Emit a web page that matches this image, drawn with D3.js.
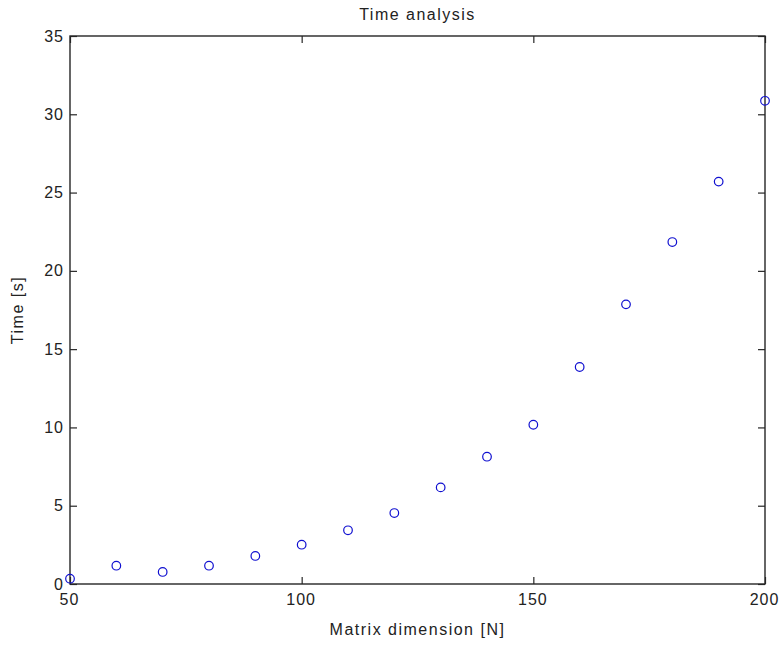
<!DOCTYPE html>
<html>
<head>
<meta charset="utf-8">
<script src="https://cdn.jsdelivr.net/npm/d3@7"></script>
<style>
  body { margin: 0; background: #fff; }
  text { font-family: "Liberation Sans", Arial, sans-serif; fill: #222; }
</style>
</head>
<body>
<script>
// data
var dims  = [50, 60, 70, 80, 90, 100, 110, 120, 130, 140, 150, 160, 170, 180, 190, 200];
var times = [0.34, 1.17, 0.77, 1.17, 1.79, 2.51, 3.43, 4.53, 6.17, 8.13, 10.17, 13.86, 17.86, 21.84, 25.7, 30.86];
var xTicks = [50, 100, 150, 200];
var yTicks = [0, 5, 10, 15, 20, 25, 30, 35];

var W = 779, H = 646;
var m = {left: 70, right: 14, top: 36, bottom: 62};
var pw = W - m.left - m.right, ph = H - m.top - m.bottom;

var svg = d3.select("body").append("svg").attr("width", W).attr("height", H);
var g = svg.append("g").attr("transform", "translate(" + m.left + "," + m.top + ")");

var x = d3.scaleLinear().domain([50, 200]).range([0, pw]);
var y = d3.scaleLinear().domain([0, 35]).range([ph, 0]);

var tk = 7;
// inward ticks on all four sides
function styleAxis(sel) {
  sel.select(".domain").remove();
  sel.selectAll(".tick line").attr("stroke", "#262626").attr("stroke-width", 1.2);
  sel.selectAll(".tick text").attr("fill", "#222")
    .style("font-size", "16px").style("letter-spacing", "1px")
    .style("font-family", "Liberation Sans, Arial, sans-serif");
}
g.append("g").attr("transform", "translate(0," + ph + ")")
  .call(d3.axisBottom(x).tickValues(xTicks).tickSize(-tk).tickPadding(10).tickFormat(d3.format("d")))
  .call(styleAxis)
  .selectAll(".tick text").attr("dx", "-1px");
g.append("g")
  .call(d3.axisTop(x).tickValues(xTicks).tickSize(-tk).tickFormat(""))
  .call(styleAxis);
g.append("g")
  .call(d3.axisLeft(y).tickValues(yTicks).tickSize(-tk).tickPadding(7).tickFormat(d3.format("d")))
  .call(styleAxis)
  .selectAll(".tick text").attr("dx", "1px");
g.append("g").attr("transform", "translate(" + pw + ",0)")
  .call(d3.axisRight(y).tickValues(yTicks).tickSize(-tk).tickFormat(""))
  .call(styleAxis);

// box
g.append("rect").attr("width", pw).attr("height", ph)
  .attr("fill", "none").attr("stroke", "#262626").attr("stroke-width", 1.4);

// points
g.selectAll("circle.pt").data(dims).enter().append("circle")
  .attr("class", "pt")
  .attr("cx", function(d) { return x(d); })
  .attr("cy", function(d, i) { return y(times[i]); })
  .attr("r", 4.3)
  .attr("fill", "none").attr("stroke", "#1010d0").attr("stroke-width", 1.2);

// labels
function label(sel) {
  return sel.attr("text-anchor", "middle").style("font-size", "16px").style("letter-spacing", "1.5px");
}
svg.append("text").attr("x", m.left + pw / 2).attr("y", 20).call(label).text("Time analysis");
svg.append("text").attr("x", m.left + pw / 2).attr("y", 635).call(label).text("Matrix dimension [N]");
svg.append("text").attr("transform", "translate(23," + (m.top + ph / 2) + ") rotate(-90)")
  .call(label).text("Time [s]");
</script>
</body>
</html>
